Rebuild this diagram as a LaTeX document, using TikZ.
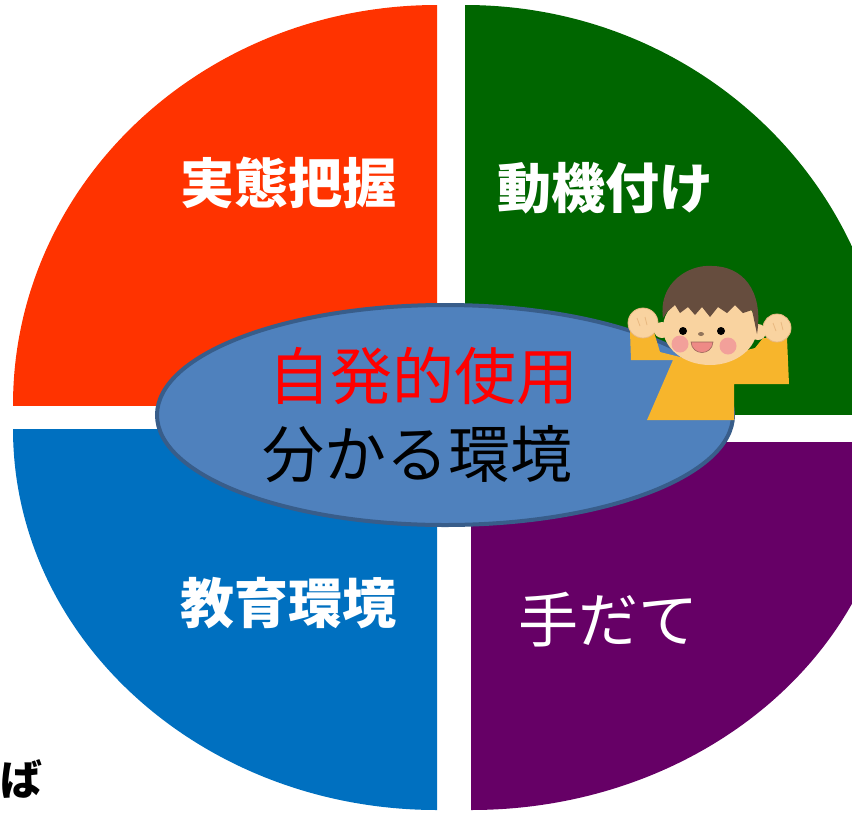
\documentclass[tikz,border=0pt]{standalone}
\usepackage{fontspec}
\newfontfamily\jp{Noto Sans CJK JP}
\usetikzlibrary{shapes.geometric}

\definecolor{qRed}{HTML}{FF3300}
\definecolor{qGreen}{HTML}{006600}
\definecolor{qBlue}{HTML}{0070C0}
\definecolor{qPurple}{HTML}{660066}
\definecolor{hubFill}{HTML}{4F81BD}
\definecolor{hubLine}{HTML}{385D8A}
\definecolor{skin}{HTML}{F9D3A0}
\definecolor{skinLine}{HTML}{E8B880}
\definecolor{shirt}{HTML}{F7B52C}
\definecolor{hair}{HTML}{664D3E}
\definecolor{cheek}{HTML}{F2A09A}
\definecolor{mouth}{HTML}{EE8A86}

\begin{document}
\begin{tikzpicture}[x=1pt,y=-1pt,
  quadlabel/.style={text=white, inner sep=0pt,
    font={\jp\bfseries\fontsize{54}{60}\selectfont}},
  hublabel/.style={inner sep=0pt, font={\jp\fontsize{62}{70}\selectfont}},
  hub/.style={ellipse, draw=hubLine, line width=4pt, fill=hubFill,
    minimum width=576pt, minimum height=220pt, inner sep=0pt}]
\useasboundingbox (0,0) rectangle (852,812);
\clip (0,0) rectangle (852,812);

% four quarter sectors, pulled slightly apart
\begin{scope}
  \clip (0,0) rectangle (437,405);
  \fill[qRed] (437,405) ellipse [x radius=424, y radius=400];
\end{scope}
\begin{scope}
  \clip (465,0) rectangle (852,414);
  \fill[qGreen] (465,414) ellipse [x radius=424, y radius=409];
\end{scope}
\begin{scope}
  \clip (0,429) rectangle (437,812);
  \fill[qBlue] (437,429) ellipse [x radius=424, y radius=381];
\end{scope}
\begin{scope}
  \clip (471,442) rectangle (852,812);
  \fill[qPurple] (471,442) ellipse [x radius=424, y radius=368];
\end{scope}

% sector labels
\node[quadlabel] (jittai) at (288,183) {実態把握};
\node[quadlabel] (doki) at (605,188) {動機付け};
\node[quadlabel] (kyoiku) at (288,603) {教育環境};
\node[quadlabel, font={\jp\fontsize{60}{66}\selectfont}] (tedate) at (608,620) {手だて};

% central ellipse
\node[hub] (hubnode) at (445,415) {};
\node[hublabel, text={rgb,255:red,255;green,0;blue,0}] (jihatsu) at (423,376) {自発的使用};
\node[hublabel, text=black] (wakaru) at (417,454) {分かる環境};

% single character at the lower left
\node[inner sep=0pt, font={\jp\bfseries\fontsize{42}{48}\selectfont}] (ba) at (21,779) {ば};

% cheering child
\fill[shirt] (630,332) -- (654,332) -- (660,352) -- (700,362) -- (755,348)
  -- (763,338) -- (787,338) -- (789,384) -- (734,384) -- (734,420)
  -- (647,420) -- (673,360) -- (631,360) -- cycle;
\filldraw[skin, draw=skinLine, line width=0.8pt] (643,323) circle [radius=15];
\filldraw[skin, draw=skinLine, line width=0.8pt] (777,328) circle [radius=14];
\draw[skinLine, line width=0.8pt] (637,318) -- (640,326) (645,317) -- (647,325);
\draw[skinLine, line width=0.8pt] (773,323) -- (776,331) (781,322) -- (783,330);
% face and ears
\fill[skin] (662,330) circle [radius=8];
\fill[skin] (758,332) circle [radius=8];
\fill[skin] (710,328) ellipse [x radius=47, y radius=37];
% hair with jagged fringe
\fill[hair] (663,318) .. controls (658,282) and (690,264) .. (712,266)
  .. controls (742,266) and (764,290) .. (757,334)
  -- (752,310) -- (743,313) -- (735,305) -- (727,313) -- (718,307)
  -- (710,317) -- (702,307) -- (695,315) -- (688,307) -- (680,313)
  -- (675,305) -- (667,312) -- cycle;
% cheeks, eyes, nose, mouth
\fill[cheek] (680,344) circle [radius=8.5];
\fill[cheek] (728,346) circle [radius=8.5];
\fill[black] (683,331) circle [radius=4];
\fill[black] (721,331) circle [radius=4];
\fill[hair!70!skin] (701,334) ellipse [x radius=3, y radius=2];
\filldraw[mouth, draw=hair!60!mouth, line width=0.6pt]
  (691,342) -- (713,342) .. controls (712,356) and (692,356) .. (691,342) -- cycle;
\end{tikzpicture}
\end{document}
